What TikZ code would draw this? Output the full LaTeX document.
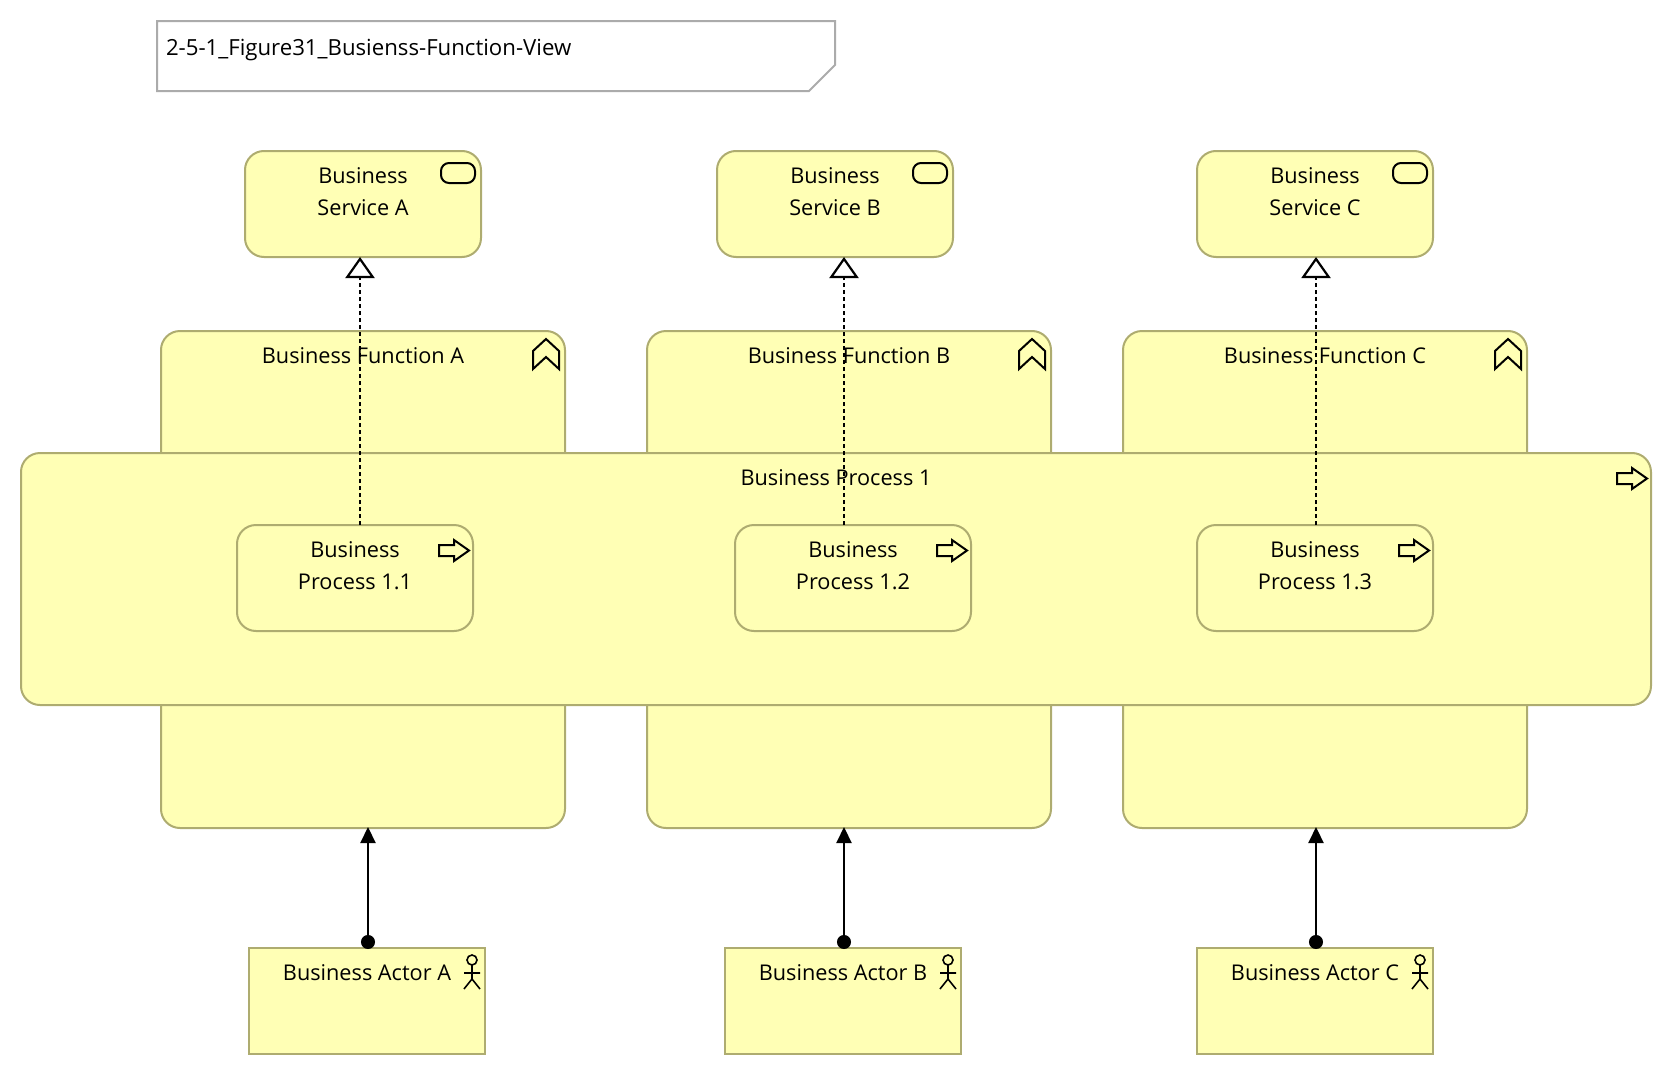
\documentclass[tikz,border=0pt]{standalone}
\usepackage{fontspec}
\setmainfont{Open Sans}
\usepackage{tikz}
\usetikzlibrary{arrows.meta,positioning}
\definecolor{BoxFill}{HTML}{FFFFB5}
\definecolor{BoxLine}{HTML}{AEAC70}
\definecolor{NoteLine}{HTML}{ABABAB}
\tikzset{
    box/.style={draw=BoxLine,line width=2pt,fill=BoxFill,outer sep=0pt,inner sep=0pt,anchor=north west},
    roundbox/.style={box,rounded corners=19pt},
    caption/.style={font=\fontsize{21.7}{32}\selectfont,align=center,inner sep=0pt,outer sep=0pt},
    icon/.style={draw=black,line width=2pt,line join=miter},
    realizes/.style={line width=2.2pt,dash pattern=on 4pt off 3pt,-{Triangle[fill=white,length=21pt,width=29pt]}},
    assigned/.style={line width=2.2pt,shorten <=-1pt,shorten >=-1pt,{Circle[length=14pt]}-{Triangle[length=16pt,width=15pt]}}
}
\newcommand{\icnsvc}[1]{\draw[icon,rounded corners=8pt] ([shift={(-40,12)}]#1.north east) rectangle ([shift={(-6,32)}]#1.north east);}
\newcommand{\icnfn}[1]{\draw[icon] ([shift={(-32,38)}]#1.north east) -- ++(0,-18) -- ++(13,-12) -- ++(13,12) -- ++(0,18) -- ++(-13,-12) -- cycle;}
\newcommand{\icnprc}[1]{\draw[icon] ([shift={(-34,20)}]#1.north east) -- ++(15,0) -- ++(0,-5) -- ++(15,10.5) -- ++(-15,10.5) -- ++(0,-5) -- ++(-15,0) -- cycle;}
\newcommand{\icnact}[1]{
    \draw[icon,line width=1.6pt] ([shift={(-13,12)}]#1.north east) circle (5pt);
    \draw[icon,line width=1.6pt] ([shift={(-13,17)}]#1.north east) -- ++(0,14) -- ++(-8,10) ++(8,-10) -- ++(8,10) ([shift={(-21,25)}]#1.north east) -- ++(16,0);
}

\begin{document}
\begin{tikzpicture}[x=1pt,y=-1pt]
    \useasboundingbox (0,0) rectangle (1674,1076);

    \node[inner sep=0pt,outer sep=0pt,anchor=north west,minimum width=678pt,minimum height=70pt] (note) at (157,21) {};
    \draw[draw=NoteLine,line width=2pt,fill=white] (note.north west) -- (note.north east) -- ([yshift=26pt]note.south east) -- ([xshift=-26pt]note.south east) -- (note.south west) -- cycle;
    \node[caption,anchor=west,font=\fontsize{22.2}{32}\selectfont] (notetxt) at (166,50.5) {2-5-1\_Figure31\_Busienss-Function-View};

    \node[roundbox,minimum width=236pt,minimum height=106pt] (svcA) at (245,151) {};
    \node[roundbox,minimum width=236pt,minimum height=106pt] (svcB) at (717,151) {};
    \node[roundbox,minimum width=236pt,minimum height=106pt] (svcC) at (1197,151) {};
    \node[caption,below=17pt of svcA.north] (svcAtxt) {Business\\Service A};
    \node[caption,below=17pt of svcB.north] (svcBtxt) {Business\\Service B};
    \node[caption,below=17pt of svcC.north] (svcCtxt) {Business\\Service C};
    \icnsvc{svcA}
    \icnsvc{svcB}
    \icnsvc{svcC}

    \node[roundbox,minimum width=404pt,minimum height=497pt] (fnA) at (161,331) {};
    \node[roundbox,minimum width=404pt,minimum height=497pt] (fnB) at (647,331) {};
    \node[roundbox,minimum width=404pt,minimum height=497pt] (fnC) at (1123,331) {};
    \node[caption,below=17pt of fnA.north] (fnAtxt) {Business Function A};
    \node[caption,below=17pt of fnB.north] (fnBtxt) {Business Function B};
    \node[caption,below=17pt of fnC.north] (fnCtxt) {Business Function C};
    \icnfn{fnA}
    \icnfn{fnB}
    \icnfn{fnC}

    \node[roundbox,minimum width=1630pt,minimum height=252pt] (prcMain) at (21,453) {};
    \node[caption,below=17pt of prcMain.north] (prcMaintxt) {Business Process 1};
    \icnprc{prcMain}

    \node[roundbox,minimum width=236pt,minimum height=106pt] (prcA) at (237,525) {};
    \node[roundbox,minimum width=236pt,minimum height=106pt] (prcB) at (735,525) {};
    \node[roundbox,minimum width=236pt,minimum height=106pt] (prcC) at (1197,525) {};
    \node[caption,below=17pt of prcA.north] (prcAtxt) {Business\\Process 1.1};
    \node[caption,below=17pt of prcB.north] (prcBtxt) {Business\\Process 1.2};
    \node[caption,below=17pt of prcC.north] (prcCtxt) {Business\\Process 1.3};
    \icnprc{prcA}
    \icnprc{prcB}
    \icnprc{prcC}

    \node[box,minimum width=236pt,minimum height=106pt] (actA) at (249,948) {};
    \node[box,minimum width=236pt,minimum height=106pt] (actB) at (725,948) {};
    \node[box,minimum width=236pt,minimum height=106pt] (actC) at (1197,948) {};
    \node[caption,below=17pt of actA.north] (actAtxt) {Business Actor A};
    \node[caption,below=17pt of actB.north] (actBtxt) {Business Actor B};
    \node[caption,below=17pt of actC.north] (actCtxt) {Business Actor C};
    \icnact{actA}
    \icnact{actB}
    \icnact{actC}

    \draw[realizes] (360,0 |- prcA.north) -- (360,0 |- svcA.south);
    \draw[realizes] (844,0 |- prcB.north) -- (844,0 |- svcB.south);
    \draw[realizes] (1316,0 |- prcC.north) -- (1316,0 |- svcC.south);

    \draw[assigned] (368,0 |- actA.north) -- (368,0 |- fnA.south);
    \draw[assigned] (844,0 |- actB.north) -- (844,0 |- fnB.south);
    \draw[assigned] (1316,0 |- actC.north) -- (1316,0 |- fnC.south);
\end{tikzpicture}
\end{document}
